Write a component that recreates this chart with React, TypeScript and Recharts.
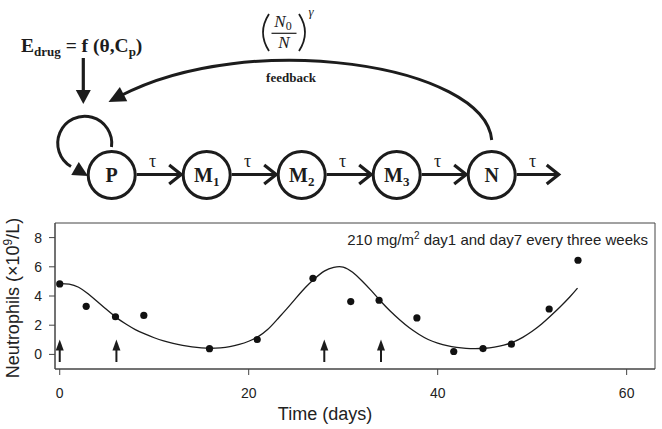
import {
  ComposedChart,
  Line,
  Scatter,
  XAxis,
  YAxis,
  ReferenceArea,
  ReferenceLine,
} from 'recharts';

// model prediction (days, x10^9/L)
const curveDays = [
  0, 1, 2, 3, 4, 5, 6, 7, 8, 9, 10, 11, 12, 13, 14, 15, 16, 17, 18, 19, 20, 21, 22, 23, 24, 25, 26, 27,
  28, 29, 30, 31, 32, 33, 34, 35, 36, 37, 38, 39, 40, 41, 42, 43, 44, 45, 46, 47, 48, 49, 50, 51, 52,
  53, 54, 54.8,
];
const curveValues = [
  4.85, 4.82, 4.6, 4.15, 3.6, 3.05, 2.52, 2.08, 1.7, 1.4, 1.14, 0.92, 0.75, 0.62, 0.52, 0.45, 0.42,
  0.45, 0.53, 0.68, 0.9, 1.22, 1.7, 2.38, 3.1, 3.85, 4.58, 5.2, 5.7, 5.96, 5.98, 5.62, 5.03, 4.35,
  3.62, 2.95, 2.35, 1.82, 1.38, 1.02, 0.78, 0.6, 0.48, 0.41, 0.39, 0.42, 0.5, 0.63, 0.85, 1.17, 1.58,
  2.08, 2.66, 3.28, 3.95, 4.54,
];

// observed counts
const obsDays = [0, 2.8, 5.9, 8.9, 15.85, 20.9, 26.8, 30.8, 33.8, 37.8, 41.7, 44.8, 47.8, 51.8, 54.85];
const obsValues = [4.83, 3.29, 2.58, 2.67, 0.39, 1.02, 5.21, 3.62, 3.71, 2.5, 0.2, 0.4, 0.7, 3.11, 6.45];

// dosing days (arrows)
const doseDays = [0, 6, 28, 34];
const arrowBase = -0.52;
const arrowTip = 1.02;

const xTicks = [0, 20, 40, 60];
const yTicks = [0, 2, 4, 6, 8];
const xDomain = [-0.5, 63];
const yDomain = [-1, 9];

const compartments = ['P', 'M', 'M', 'M', 'N'];
const compartmentSubs = ['', '1', '2', '3', ''];

const INK = '#1c1c1c';
const SANS = '"Liberation Sans", Arial, sans-serif';
const SERIF = '"Liberation Serif", "Times New Roman", serif';

const curveData = curveDays.map((x, i) => ({ x, pred: curveValues[i] }));
const obsData = obsDays.map((x, i) => ({ x, obs: obsValues[i] }));

function Head({ x, y, angle, len = 14, half = 7 }: { x: number; y: number; angle: number; len?: number; half?: number }) {
  // filled triangle, tip at (x, y)
  return (
    <polygon
      points={`0,0 ${-len},${-half} ${-len},${half}`}
      transform={`translate(${x} ${y}) rotate(${angle})`}
      fill={INK}
    />
  );
}

function DoseArrow(props: any) {
  const { x1, y1, x2, y2 } = props;
  return (
    <g>
      <line x1={x1} y1={y1} x2={x2} y2={y2 + 8} stroke={INK} strokeWidth={2} />
      <polygon points={`${x2},${y2} ${x2 - 4},${y2 + 11} ${x2 + 4},${y2 + 11}`} fill={INK} />
    </g>
  );
}

function Dot(props: any) {
  return <circle cx={props.cx} cy={props.cy} r={3.6} fill="#111" />;
}

function Diagram() {
  const cy = 175;
  const r = 23.5;
  const cxs = compartments.map((_, i) => 111.7 + i * 95);
  const ay = 174.5;
  return (
    <g>
      {/* E_drug */}
      <text x={21} y={52} fontFamily={SERIF} fontWeight="bold" fontSize={19.5} fill={INK}>
        E<tspan fontSize={13} dy={4}>drug</tspan>
        <tspan dy={-4}> = f (θ,C</tspan>
        <tspan fontSize={13} dy={4}>p</tspan>
        <tspan dy={-4}>)</tspan>
      </text>
      <line x1={83.3} y1={58} x2={83.3} y2={92} stroke={INK} strokeWidth={3.2} />
      <Head x={83.3} y={104} angle={90} len={14} half={7.5} />

      {/* feedback term */}
      <path d="M 269 14 Q 257 32.5 269 51" fill="none" stroke={INK} strokeWidth={1.8} />
      <path d="M 299 14 Q 311 32.5 299 51" fill="none" stroke={INK} strokeWidth={1.8} />
      <text x={283} y={27} textAnchor="middle" fontFamily={SERIF} fontStyle="italic" fontSize={17} fill={INK}>
        N<tspan fontStyle="normal" fontSize={12} dy={3}>0</tspan>
      </text>
      <line x1={271.5} y1={33.3} x2={296.5} y2={33.3} stroke={INK} strokeWidth={1.2} />
      <text x={284} y={48} textAnchor="middle" fontFamily={SERIF} fontStyle="italic" fontSize={17} fill={INK}>
        N
      </text>
      <text x={311} y={16} textAnchor="middle" fontFamily={SERIF} fontStyle="italic" fontSize={13} fill={INK}>
        γ
      </text>

      <path d="M 491.7 140 C 485 65, 250 28, 120 96" fill="none" stroke={INK} strokeWidth={3} />
      <Head x={108.5} y={102} angle={152.4} len={17} half={8} />
      <text x={291} y={81.5} textAnchor="middle" fontFamily={SERIF} fontWeight="bold" fontSize={13} fill={INK}>
        feedback
      </text>

      {/* self renewal loop on P */}
      <path d="M 111.5 147 A 27 27 0 1 0 71 166.5" fill="none" stroke={INK} strokeWidth={3} />
      <Head x={88} y={176} angle={30} len={15} half={7.5} />

      {/* compartments */}
      {cxs.map((cx, i) => (
        <g key={i}>
          <circle cx={cx} cy={cy} r={r} fill="#fff" stroke={INK} strokeWidth={3} />
          <text x={cx} y={cy + 7} textAnchor="middle" fontFamily={SERIF} fontWeight="bold" fontSize={20} fill={INK}>
            {compartments[i]}
            {compartmentSubs[i] && (
              <tspan fontSize={13} dy={4}>
                {compartmentSubs[i]}
              </tspan>
            )}
          </text>
        </g>
      ))}
      {cxs.map((cx, i) => {
        const x0 = cx + r + 1.5;
        const x1 = i < cxs.length - 1 ? cxs[i + 1] - r - 2 : cx + 67;
        return (
          <g key={'a' + i}>
            <line x1={x0} y1={ay} x2={x1 - 2} y2={ay} stroke={INK} strokeWidth={3} />
            <polyline
              points={`${x1 - 12},${ay - 9.5} ${x1},${ay} ${x1 - 12},${ay + 9.5}`}
              fill="none"
              stroke={INK}
              strokeWidth={3.2}
            />
            <text x={cx + 41} y={167} textAnchor="middle" fontFamily={SERIF} fontSize={18} fill={INK}>
              τ
            </text>
          </g>
        );
      })}
    </g>
  );
}

export default function App() {
  return (
    <div style={{ position: 'absolute', left: 0, top: 0, width: 662, height: 429, background: '#fff' }}>
      <ComposedChart width={662} height={429} margin={{ top: 223, right: 7, bottom: 0, left: 0 }}>
        <XAxis
          type="number"
          dataKey="x"
          domain={xDomain}
          ticks={xTicks}
          allowDataOverflow
          height={60}
          tickSize={6}
          tickMargin={13}
          stroke="#444"
          tick={{ fill: '#222', fontSize: 14, fontFamily: SANS }}
        />
        <YAxis
          type="number"
          domain={yDomain}
          ticks={yTicks}
          allowDataOverflow
          width={55}
          tickSize={6}
          tickMargin={7}
          stroke="#444"
          tick={{ fill: '#222', fontSize: 14, fontFamily: SANS }}
        />
        <ReferenceArea
          x1={xDomain[0]}
          x2={xDomain[1]}
          y1={yDomain[0]}
          y2={yDomain[1]}
          fill="none"
          stroke="#444"
          strokeWidth={1}
        />
        <Line
          data={curveData}
          dataKey="pred"
          type="natural"
          stroke={INK}
          strokeWidth={1.3}
          dot={false}
          activeDot={false}
          isAnimationActive={false}
        />
        <Scatter data={obsData} dataKey="obs" shape={Dot} isAnimationActive={false} />
        {doseDays.map((d) => (
          <ReferenceLine
            key={d}
            segment={[
              { x: d, y: arrowBase },
              { x: d, y: arrowTip },
            ]}
            shape={DoseArrow}
          />
        ))}
      </ComposedChart>
      <svg
        width={662}
        height={429}
        style={{ position: 'absolute', left: 0, top: 0, pointerEvents: 'none' }}
      >
        <Diagram />
        <text x={648} y={245} textAnchor="end" fontFamily={SANS} fontSize={15} fill="#222">
          210 mg/m<tspan fontSize={10} dy={-6}>2</tspan>
          <tspan dy={6}> day1 and day7 every three weeks</tspan>
        </text>
        <text x={325} y={420} textAnchor="middle" fontFamily={SANS} fontSize={18} fill="#222">
          Time (days)
        </text>
        <text
          x={19}
          y={298}
          transform="rotate(-90 19 298)"
          textAnchor="middle"
          fontFamily={SANS}
          fontSize={18}
          fill="#222"
        >
          Neutrophils (×10<tspan fontSize={12} dy={-7}>9</tspan>
          <tspan dy={7}>/L)</tspan>
        </text>
      </svg>
    </div>
  );
}
